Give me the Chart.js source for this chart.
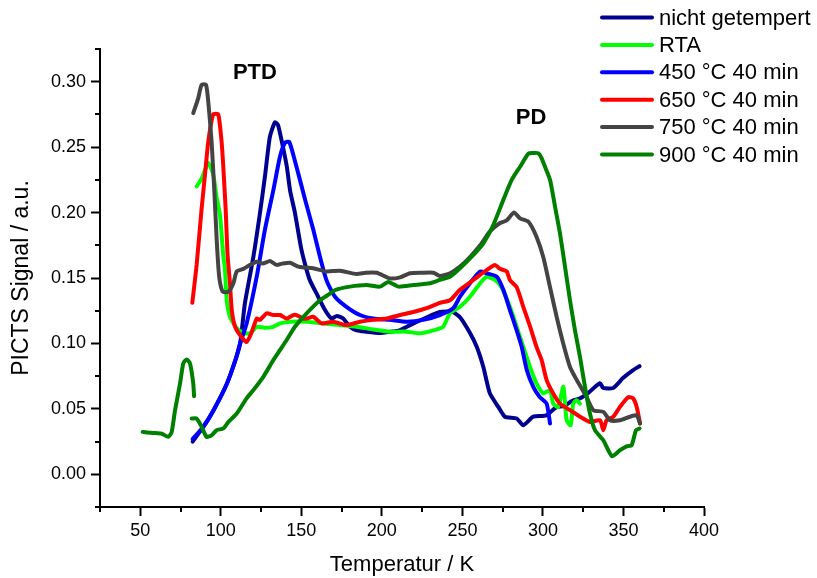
<!DOCTYPE html>
<html>
<head>
<meta charset="utf-8">
<title>PICTS Signal</title>
<script src="https://cdn.jsdelivr.net/npm/chart.js@4.4.1/dist/chart.umd.min.js"></script>
<style>
  html, body { margin: 0; padding: 0; background: #fff; }
  #wrap { width: 817px; height: 578px; }
</style>
</head>
<body>
<div id="wrap"><canvas id="myChart" width="817" height="578"></canvas></div>
<script>
'use strict';

// data (temperature in K, signal in a.u.)

var tempNicht = [82.5, 89, 95.5, 103.7, 109, 112, 115, 120.2, 124.3, 127.4, 130.5, 133.6, 135.5, 138.6, 141, 143, 146, 150, 153.3, 155.4, 159.5, 164.7, 168.8, 172, 176, 180, 184.4, 190, 198.8, 205, 211, 217.5, 228, 236, 244, 248.5, 254.7, 258.9, 263, 267, 272.3, 276.4, 283.7, 287.8, 294, 302, 308.5, 313, 318, 323, 328, 335.4, 337.4, 343.6, 349.7, 356, 360];
var sigNicht = [0.025, 0.036, 0.049, 0.069, 0.087, 0.100, 0.131, 0.166, 0.1995, 0.2275, 0.258, 0.269, 0.267, 0.25, 0.235, 0.217, 0.2, 0.172, 0.156, 0.148, 0.138, 0.1255, 0.119, 0.121, 0.119, 0.113, 0.110, 0.109, 0.108, 0.109, 0.110, 0.114, 0.12, 0.124, 0.124, 0.12, 0.108, 0.0975, 0.082, 0.062, 0.0515, 0.044, 0.0426, 0.0375, 0.044, 0.045, 0.0515, 0.052, 0.056, 0.058, 0.062, 0.0696, 0.066, 0.066, 0.0735, 0.0796, 0.0826];

var tempRta = [85, 88.1, 92.2, 95.3, 97.5, 99.5, 101.5, 102.6, 103.7, 105.7, 109.9, 114, 118.1, 122.3, 127, 132.6, 136.8, 143, 153.3, 163.6, 174, 184.4, 194.7, 205, 215.4, 223.7, 232, 238, 242.3, 248.5, 254.7, 261, 265, 270.2, 274.3, 279.5, 283.7, 287.8, 292, 296, 300.2, 304.4, 306.4, 309.5, 312.7, 314.7, 317.2, 318.8, 320.9, 323];
var sigRta = [0.22, 0.226, 0.2378, 0.229, 0.211, 0.198, 0.1676, 0.156, 0.133, 0.1204, 0.1115, 0.108, 0.1077, 0.1127, 0.112, 0.1127, 0.1153, 0.1166, 0.1166, 0.1153, 0.114, 0.1127, 0.1107, 0.109, 0.109, 0.1077, 0.110, 0.1127, 0.123, 0.128, 0.1357, 0.146, 0.151, 0.1485, 0.143, 0.128, 0.1127, 0.0974, 0.082, 0.0694, 0.0618, 0.0643, 0.054, 0.0515, 0.0668, 0.0413, 0.0375, 0.054, 0.0566, 0.054];

var temp450 = [82.5, 89, 95.5, 103.7, 109, 112, 116, 122.3, 127.4, 132.6, 136.8, 139.9, 142.5, 147, 152.3, 157.4, 161.6, 165.7, 170.9, 178, 186.4, 194.7, 205, 215.4, 225.7, 236, 244.4, 248.5, 254.7, 261, 265, 271.3, 275.4, 279.5, 283.7, 286.8, 290, 294, 298, 302.3, 304.4];
var sig450 = [0.027, 0.036, 0.049, 0.069, 0.087, 0.1, 0.115, 0.151, 0.187, 0.217, 0.243, 0.2535, 0.254, 0.235, 0.21, 0.187, 0.166, 0.148, 0.1357, 0.128, 0.1217, 0.119, 0.118, 0.1166, 0.118, 0.1217, 0.127, 0.1357, 0.146, 0.155, 0.1536, 0.151, 0.141, 0.1255, 0.110, 0.0974, 0.0796, 0.0668, 0.059, 0.054, 0.0388];

var temp650 = [82.3, 85, 88.1, 90.2, 92.2, 95.3, 98.4, 100.5, 101.5, 103, 104.2, 105.7, 106.8, 108.8, 111.9, 116, 119, 122.3, 124.3, 128.5, 132.6, 136.8, 140.9, 145, 147, 151.2, 153.3, 157.4, 162.6, 169.8, 178, 186.4, 194.7, 203, 211.3, 219.5, 227.8, 236, 242.3, 248.5, 256.8, 265, 270.2, 273.3, 277.5, 279.5, 283.7, 287.8, 292, 296, 299.2, 302.3, 306.4, 310.6, 316.8, 323, 329.2, 335.4, 337.5, 339.5, 343.7, 347.8, 353, 356, 358.2, 360.3];
var sig650 = [0.131, 0.16, 0.203, 0.229, 0.254, 0.275, 0.275, 0.254, 0.236, 0.203, 0.1676, 0.146, 0.1255, 0.113, 0.1064, 0.101, 0.108, 0.119, 0.118, 0.123, 0.1217, 0.1217, 0.119, 0.1217, 0.1217, 0.119, 0.119, 0.1204, 0.1153, 0.1166, 0.114, 0.1166, 0.118, 0.119, 0.1217, 0.124, 0.127, 0.131, 0.133, 0.141, 0.1485, 0.156, 0.16, 0.157, 0.155, 0.1485, 0.143, 0.128, 0.113, 0.0974, 0.0872, 0.072, 0.0618, 0.054, 0.049, 0.044, 0.040, 0.0413, 0.0337, 0.0413, 0.044, 0.0515, 0.059, 0.058, 0.0515, 0.0388];

var temp750 = [82.9, 86, 88.1, 90.8, 92.2, 94.3, 96, 97.5, 99, 101.2, 104.7, 107.8, 109.9, 114, 118.1, 122.3, 126, 130.5, 134.7, 138, 143, 148.1, 152, 157.4, 165.7, 174, 184.3, 190, 196.8, 205, 211.3, 217.5, 225, 232, 236, 242.3, 248.5, 254.7, 261, 267, 273.3, 277.5, 282, 285.8, 291, 296, 300.2, 304.4, 308.5, 312.6, 316.8, 321, 327.1, 331.3, 337.5, 341.6, 347.8, 354, 358.2, 360.3];
var sig750 = [0.276, 0.2875, 0.2977, 0.2977, 0.285, 0.254, 0.216, 0.178, 0.151, 0.1395, 0.1395, 0.146, 0.155, 0.157, 0.16, 0.1625, 0.161, 0.163, 0.16, 0.161, 0.1617, 0.1587, 0.158, 0.1574, 0.155, 0.1556, 0.153, 0.154, 0.154, 0.1497, 0.1505, 0.1536, 0.154, 0.154, 0.1515, 0.1536, 0.1587, 0.166, 0.175, 0.1854, 0.192, 0.194, 0.200, 0.1956, 0.193, 0.1816, 0.166, 0.143, 0.1204, 0.100, 0.082, 0.072, 0.059, 0.049, 0.0477, 0.0413, 0.0413, 0.044, 0.045, 0.0388];

// the 900 series has a break near 83 K (null = gap)
var temp900 = [51.5, 54, 58.1, 63.3, 67.4, 69.5, 71.6, 74.7, 76.7, 78.8, 80.9, 82.9, 83.4, 83.5, 81.9, 85, 88.1, 91.2, 94.3, 97.4, 101.6, 104.7, 109.9, 116, 120.2, 126.4, 132.6, 136.8, 140.9, 146, 153.3, 161.6, 167.8, 170.9, 180.2, 190.5, 198.8, 204, 210.2, 219.5, 229.9, 236, 242.3, 248.5, 256.8, 263, 269.2, 275.4, 280.6, 285.8, 291, 294, 297.1, 299, 301.3, 304.4, 307.5, 310.6, 313.7, 316.8, 319.9, 323, 326.1, 329.2, 332.3, 337.5, 342.9, 347.9, 352, 355, 357.8, 360];
var sig900 = [0.0324, 0.032, 0.0316, 0.031, 0.0286, 0.0324, 0.049, 0.0694, 0.0847, 0.0878, 0.0847, 0.0694, 0.0597, null, 0.0426, 0.0426, 0.0362, 0.0286, 0.0298, 0.0337, 0.035, 0.040, 0.0464, 0.058, 0.0643, 0.0745, 0.0872, 0.095, 0.1026, 0.1127, 0.123, 0.133, 0.138, 0.1408, 0.1434, 0.1446, 0.1434, 0.147, 0.1434, 0.1446, 0.146, 0.1485, 0.151, 0.1574, 0.1676, 0.1765, 0.1905, 0.2097, 0.225, 0.235, 0.245, 0.2455, 0.2454, 0.242, 0.235, 0.225, 0.2046, 0.184, 0.1587, 0.133, 0.110, 0.0898, 0.0668, 0.0464, 0.0337, 0.026, 0.0138, 0.0184, 0.0214, 0.022, 0.0337, 0.035];

var seriesNames = ['nicht getempert', 'RTA', '450 °C 40 min', '650 °C 40 min', '750 °C 40 min', '900 °C 40 min'];
var seriesTemps = [tempNicht, tempRta, temp450, temp650, temp750, temp900];
var seriesSignals = [sigNicht, sigRta, sig450, sig650, sig750, sig900];
var seriesColors = ['#000090', '#00FF00', '#0000FF', '#FF0000', '#444444', '#008000'];

// peak labels
var peakNames = ['PTD', 'PD'];
var peakTemps = [121.2, 292.6];
var peakSignals = [0.307, 0.272];

var FONT = '"Liberation Sans", Arial, sans-serif';

function toPoints(xs, ys) {
  var pts = [];
  for (var i = 0; i < xs.length; i++) {
    pts.push({ x: xs[i], y: ys[i] });
  }
  return pts;
}

function isMajorX(v) {
  return Math.abs(v / 50 - Math.round(v / 50)) < 1e-6;
}

function isMajorY(v) {
  return Math.abs(v / 0.05 - Math.round(v / 0.05)) < 1e-6;
}

var datasets = [];
for (var i = 0; i < seriesNames.length; i++) {
  datasets.push({
    label: seriesNames[i],
    data: toPoints(seriesTemps[i], seriesSignals[i]),
    borderColor: seriesColors[i],
    backgroundColor: seriesColors[i],
    borderWidth: 4,
    pointRadius: 0,
    tension: 0.2,
    fill: false,
    spanGaps: false,
    borderJoinStyle: 'round',
    borderCapStyle: 'round',
    order: seriesNames.length - i  // later series on top
  });
}

// minor ticks, peak labels and legend
var extrasPlugin = {
  id: 'extras',
  afterDraw: function(chart) {
    var ctx = chart.ctx;
    var xs = chart.scales.x;
    var ys = chart.scales.y;
    ctx.save();
    ctx.strokeStyle = '#000';
    ctx.lineWidth = 2;
    ctx.beginPath();
    xs.ticks.forEach(function(t) {
      if (isMajorX(t.value)) return;
      var px = Math.round(xs.getPixelForValue(t.value));
      ctx.moveTo(px, xs.top);
      ctx.lineTo(px, xs.top + 5);
    });
    ys.ticks.forEach(function(t) {
      if (isMajorY(t.value)) return;
      var py = Math.round(ys.getPixelForValue(t.value));
      ctx.moveTo(ys.right, py);
      ctx.lineTo(ys.right - 5, py);
    });
    ctx.stroke();

    ctx.fillStyle = '#000';
    ctx.font = 'bold 22px ' + FONT;
    ctx.textAlign = 'center';
    ctx.textBaseline = 'middle';
    for (var p = 0; p < peakNames.length; p++) {
      ctx.fillText(peakNames[p], xs.getPixelForValue(peakTemps[p]), ys.getPixelForValue(peakSignals[p]));
    }

    ctx.font = '22px ' + FONT;
    ctx.textAlign = 'left';
    ctx.lineCap = 'round';
    chart.data.datasets.forEach(function(ds, k) {
      var y = 17.5 + k * 27.4;
      ctx.strokeStyle = ds.borderColor;
      ctx.lineWidth = 4;
      ctx.beginPath();
      ctx.moveTo(602, y);
      ctx.lineTo(652, y);
      ctx.stroke();
      ctx.fillStyle = '#000';
      ctx.fillText(ds.label, 659, y + 1);
    });
    ctx.restore();
  }
};

Chart.defaults.font.family = FONT;
Chart.defaults.color = '#000';

var ctx = document.getElementById('myChart').getContext('2d');
var chart = new Chart(ctx, {
  type: 'line',
  data: { datasets: datasets },
  options: {
    responsive: false,
    animation: false,
    devicePixelRatio: 1,
    layout: { padding: { top: 49, right: 113, left: 0, bottom: 0 } },
    plugins: {
      legend: { display: false },
      tooltip: { enabled: false }
    },
    scales: {
      x: {
        type: 'linear',
        min: 25,
        max: 400,
        afterFit: function(scale) { scale.height = 71; },
        ticks: {
          stepSize: 25,
          padding: 4,
          maxRotation: 0,
          autoSkip: false,
          font: { size: 18 },
          callback: function(v) { return isMajorX(v) ? String(Math.round(v)) : ''; }
        },
        grid: {
          drawOnChartArea: false,
          tickLength: 9,
          tickWidth: 2,
          tickColor: function(c) { return c.tick && isMajorX(c.tick.value) ? '#000' : 'rgba(0,0,0,0)'; }
        },
        border: { display: true, color: '#000', width: 2 },
        title: { display: true, text: 'Temperatur / K', font: { size: 22 }, padding: 0 }
      },
      y: {
        type: 'linear',
        min: -0.025,
        max: 0.325,
        afterFit: function(scale) { scale.width = 100; },
        ticks: {
          stepSize: 0.025,
          padding: 5,
          autoSkip: false,
          font: { size: 18 },
          callback: function(v) { return isMajorY(v) ? v.toFixed(2) : ''; }
        },
        grid: {
          drawOnChartArea: false,
          tickLength: 9,
          tickWidth: 2,
          tickColor: function(c) { return c.tick && isMajorY(c.tick.value) ? '#000' : 'rgba(0,0,0,0)'; }
        },
        border: { display: true, color: '#000', width: 2 },
        title: { display: true, text: 'PICTS Signal / a.u.', font: { size: 23 }, padding: { top: 8, bottom: 0 } }
      }
    }
  },
  plugins: [extrasPlugin]
});
</script>
</body>
</html>
